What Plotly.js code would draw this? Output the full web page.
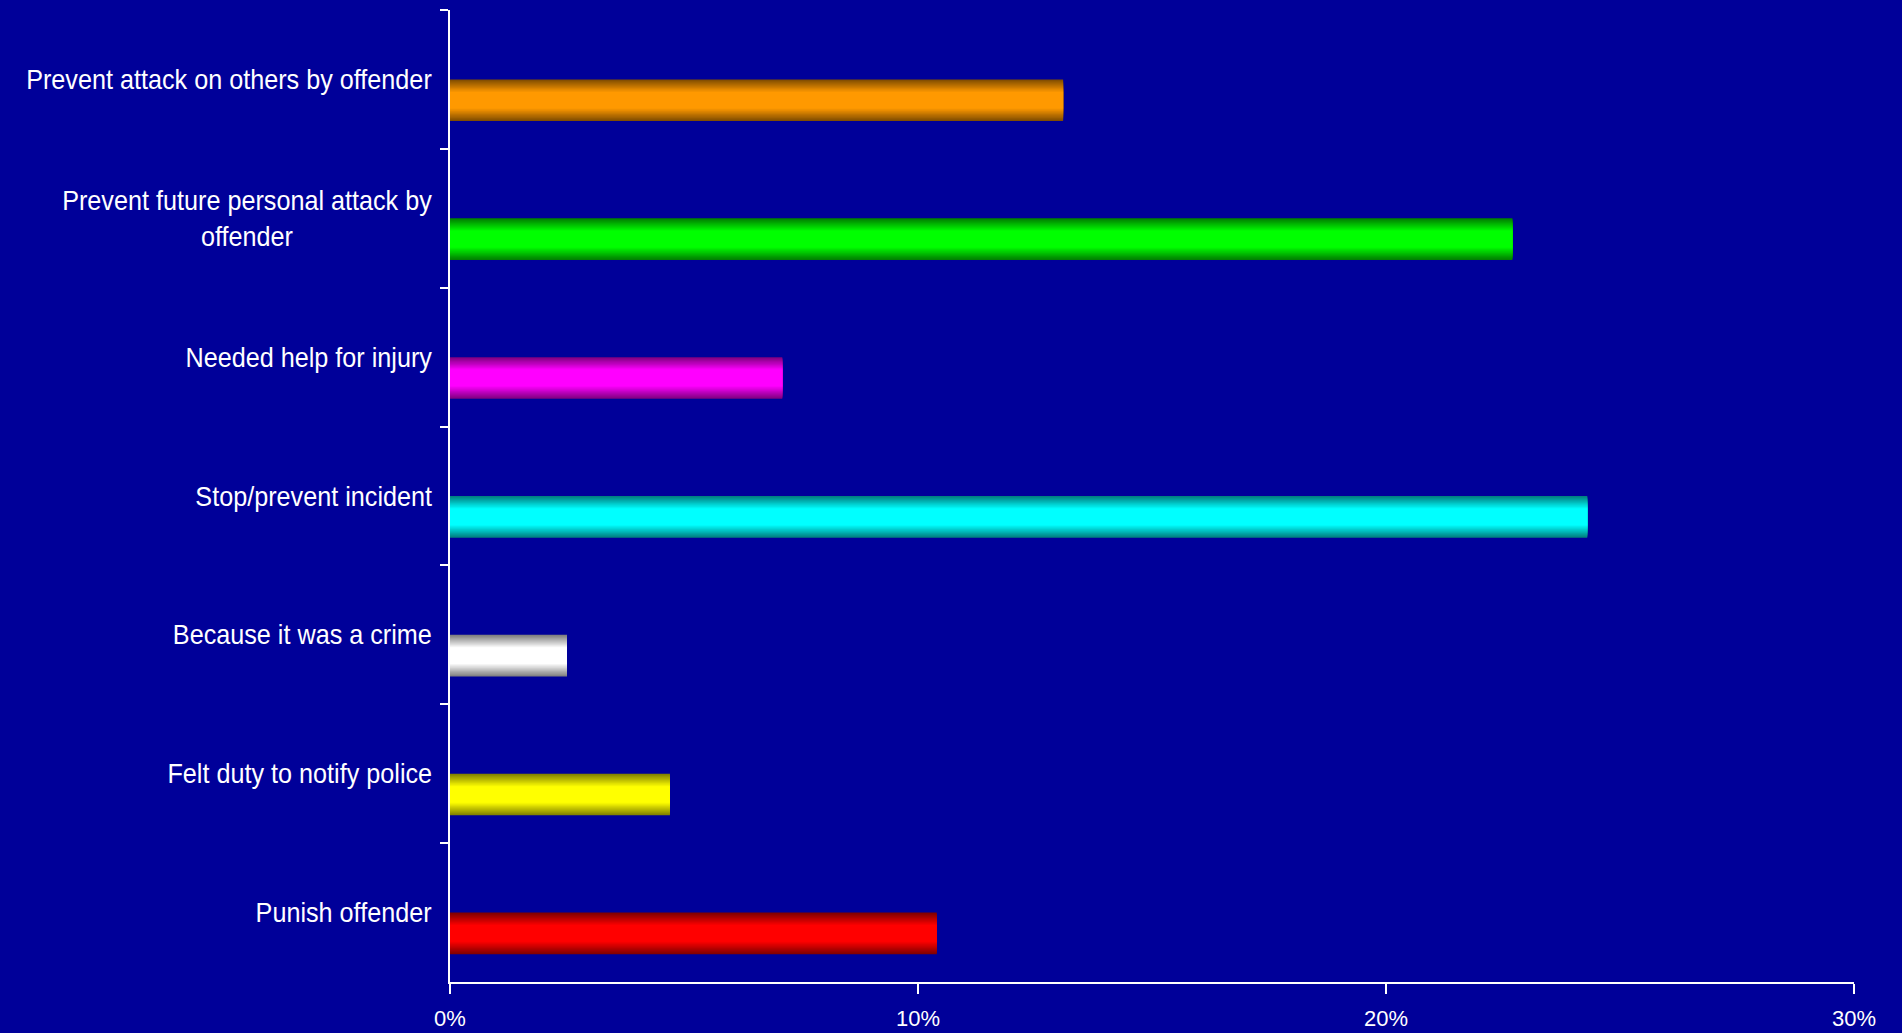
<!DOCTYPE html>
<html>
<head>
<meta charset="utf-8">
<script src="https://cdn.plot.ly/plotly-3.0.1.min.js"></script>
<style>html,body{margin:0;padding:0;background:#000099;}#chart{width:1902px;height:1033px;}</style>
</head>
<body>
<div id="chart"></div>
<script>
const categories = [
  "Prevent attack on others by offender",
  "Prevent future personal attack by<br>offender",
  "Needed help for injury",
  "Stop/prevent incident",
  "Because it was a crime",
  "Felt duty to notify police",
  "Punish offender"
];
const values = [13.1, 22.7, 7.1, 24.3, 2.5, 4.7, 10.4];
const barColors = ["#FF9900", "#00FF00", "#FF00FF", "#00FFFF", "#FFFFFF", "#FFFF00", "#FF0000"];
const xTickVals = [0, 10, 20, 30];
const xTickText = ["0%", "10%", "20%", "30%"];

function shade(hex, f) {
  const r = parseInt(hex.slice(1, 3), 16), g = parseInt(hex.slice(3, 5), 16), b = parseInt(hex.slice(5, 7), 16);
  return "rgb(" + Math.round(r * f) + "," + Math.round(g * f) + "," + Math.round(b * f) + ")";
}

// Layered bars to imitate a vertical gradient (dark edges, bright middle)
const BAR_W = 0.3, SHIFT = 0.15, N = 16, FADE = 0.3;
const traces = [];
for (let k = 0; k <= N; k++) {
  const t = FADE * k / N;
  const w = BAR_W * (1 - 2 * t);
  const f = 0.5 + 0.5 * k / N;
  traces.push({
    type: "bar",
    orientation: "h",
    x: values,
    y: categories,
    width: w,
    offset: SHIFT - w / 2,
    marker: { color: barColors.map(c => shade(c, f)), line: { width: 0 } },
    hoverinfo: "skip",
    showlegend: false
  });
}

const labelFont = { family: "Liberation Sans, Arial, sans-serif", size: 28, color: "#FFFFFF" };
const annotations = categories.map(c => ({
  xref: "paper", yref: "y", x: 0, y: c, xanchor: "right", yanchor: "middle",
  xshift: -16, text: c, showarrow: false, align: "center", font: labelFont
}));

const layout = {
  width: 1902, height: 1033,
  margin: { l: 450, r: 48, t: 10, b: 51, pad: 0 },
  paper_bgcolor: "#000099", plot_bgcolor: "#000099",
  barmode: "overlay",
  showlegend: false,
  xaxis: {
    range: [0, 30], tickvals: xTickVals, ticktext: xTickText,
    showgrid: false, zeroline: false, showline: true, linecolor: "#FFFFFF", linewidth: 2,
    ticks: "outside", ticklen: 10, tickwidth: 2, tickcolor: "#FFFFFF",
    ticklabelstandoff: 6,
    tickfont: { family: "Liberation Sans, Arial, sans-serif", size: 22, color: "#FFFFFF" },
    fixedrange: true
  },
  yaxis: {
    type: "category", categoryorder: "array", categoryarray: categories,
    range: [6.5, -0.5],
    showgrid: false, zeroline: false, showline: true, linecolor: "#FFFFFF", linewidth: 2,
    showticklabels: false, tickson: "boundaries",
    ticks: "outside", ticklen: 8, tickwidth: 2, tickcolor: "#FFFFFF",
    fixedrange: true
  },
  annotations: annotations
};

Plotly.newPlot("chart", traces, layout, { displayModeBar: false, staticPlot: true }).then(function () {
  // condense the category labels horizontally (narrow typeface look), keeping the right edge fixed
  document.querySelectorAll("#chart .annotation-text").forEach(function (t) {
    const b = t.getBBox();
    const cx = b.x + b.width;
    const prev = t.getAttribute("transform") || "";
    t.setAttribute("transform", prev + " translate(" + cx + ",0) scale(0.9,1) translate(" + (-cx) + ",0)");
  });
});
</script>
</body>
</html>
